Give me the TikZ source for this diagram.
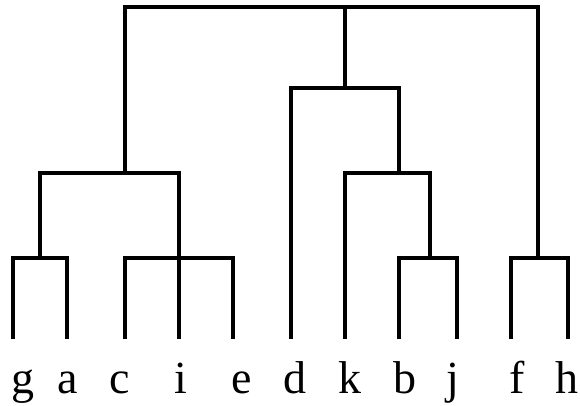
\documentclass[tikz,border=0pt]{standalone}
\usepackage{fontspec}
\setmainfont{Liberation Serif}
\begin{document}
\begin{tikzpicture}[x=1pt,y=-1pt,
  link/.style={draw, line width=3.9pt, line join=miter},
  leaflabel/.style={font=\fontsize{46}{46}\selectfont, anchor=base, inner sep=0pt}]
\useasboundingbox (0,0) rectangle (580,405);
% leaf bottoms
\coordinate (g) at (13,339);
\coordinate (a) at (67,339);
\coordinate (c) at (125,339);
\coordinate (i) at (179,339);
\coordinate (e) at (233,339);
\coordinate (d) at (291,339);
\coordinate (k) at (345,339);
\coordinate (b) at (399,339);
\coordinate (j) at (457,339);
\coordinate (f) at (511,339);
\coordinate (h) at (568,339);
% internal joints
\coordinate (ga) at (40,258);
\coordinate (cie) at (179,258);
\coordinate (L) at (125,173);
\coordinate (bj) at (430,258);
\coordinate (kbj) at (399,173);
\coordinate (dkbj) at (345,88);
\coordinate (fh) at (538,258);
\coordinate (root) at (345,7);
% links
\path[link] (g) |- (ga) -| (a);
\path[link] (c) |- (cie) -| (e);
\path[link] (i) -- (cie);
\path[link] (ga) |- (L) -| (cie);
\path[link] (b) |- (bj) -| (j);
\path[link] (k) |- (kbj) -| (bj);
\path[link] (d) |- (dkbj) -| (kbj);
\path[link] (f) |- (fh) -| (h);
\path[link] (L) |- (root) -| (fh);
\path[link] (dkbj) -- (root);
% labels
\node[leaflabel] (lg) at (23,393) {g};
\node[leaflabel] (la) at (68,393) {a};
\node[leaflabel] (lc) at (120,393) {c};
\node[leaflabel] (li) at (181,393) {i};
\node[leaflabel] (le) at (242,393) {e};
\node[leaflabel] (ld) at (295,393) {d};
\node[leaflabel] (lk) at (350,393) {k};
\node[leaflabel] (lb) at (405,393) {b};
\node[leaflabel] (lj) at (453,393) {j};
\node[leaflabel] (lf) at (517,393) {f};
\node[leaflabel] (lh) at (567,393) {h};
\end{tikzpicture}
\end{document}
